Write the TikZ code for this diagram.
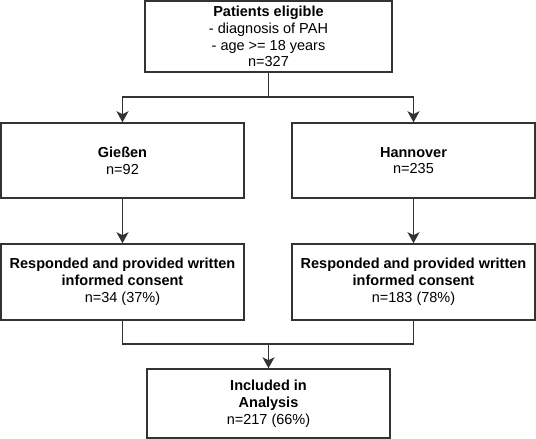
\documentclass[tikz,border=0pt]{standalone}
\usepackage{fontspec}
\setmainfont{Liberation Sans}
\usetikzlibrary{arrows.meta}

\begin{document}
\begin{tikzpicture}[x=1pt, y=-1pt]
\tikzstyle{box} = [rectangle, minimum width=243pt, minimum height=75pt, inner sep=0pt, align=center, draw=black!80, line width=1.5pt, font=\fontsize{14.5}{16.8}\selectfont]
\tikzstyle{line} = [draw=black!80, line width=1.5pt]
\tikzstyle{arrow} = [line, -{Stealth[length=11pt, width=12pt, inset=3pt]}]

\useasboundingbox (0,0) rectangle (536,439);

% Nodes
\node (patients) [box, minimum width=247pt, minimum height=71pt] at (268.5,36.5) {\textbf{Patients eligible}\\- diagnosis of PAH\\- age >= 18 years\\n=327};
\node (giessen) [box] at (122.5,160.5) {\textbf{Gießen}\\n=92};
\node (hannover) [box] at (413.5,160.5) {\textbf{Hannover}\\n=235};
\node (consentG) [box, minimum height=76pt] at (122.5,282) {\textbf{Responded and provided written}\\\textbf{informed consent}\\n=34 (37\%)};
\node (consentH) [box, minimum height=76pt] at (413.5,282) {\textbf{Responded and provided written}\\\textbf{informed consent}\\n=183 (78\%)};
\node (included) [box, minimum height=69pt] at (268.5,403.5) {\textbf{Included in}\\\textbf{Analysis}\\n=217 (66\%)};

\coordinate (split) at (268.5,97);
\coordinate (merge) at (268.5,344);

% Arrows
\draw [line] (patients.south) -- (split);
\draw [arrow] (split) -| (giessen.north);
\draw [arrow] (split) -| (hannover.north);
\draw [arrow] (giessen) -- (consentG);
\draw [arrow] (hannover) -- (consentH);
\draw [line] (consentG.south) |- (merge);
\draw [line] (consentH.south) |- (merge);
\draw [arrow] (merge) -- (included.north);

\end{tikzpicture}
\end{document}
